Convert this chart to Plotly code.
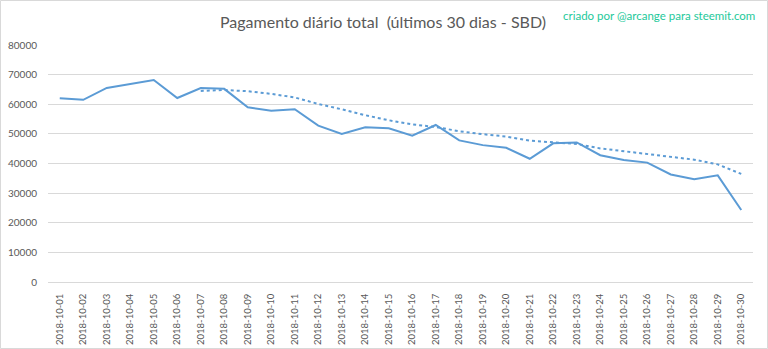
import plotly.graph_objects as go

dates = [f"2018-10-{d:02d}" for d in range(1, 31)]
pagamento = [62000, 61500, 65500, 66800, 68200, 62100, 65500, 65200, 59000, 57800,
             58300, 52800, 50000, 52200, 51900, 49400, 53000, 47800, 46200, 45300,
             41600, 46800, 47100, 42800, 41200, 40300, 36300, 34700, 36000, 24300]
media_dates = dates[6:]
media = [64500, 64800, 64400, 63500, 62300, 60100, 58300, 56300, 54600, 53200,
         52300, 50900, 49900, 49100, 47700, 47100, 46600, 45100, 44100, 43200,
         42100, 41300, 39700, 36500]
y_ticks = list(range(0, 80001, 10000))

W, H = 768, 349
L, R, T, B = 48, 15, 45, 67
pw, ph = W - L - R, H - T - B

fig = go.Figure()
fig.add_trace(go.Scatter(x=dates, y=pagamento, mode="lines",
                         line=dict(color="#5B9BD5", width=2), showlegend=False))
fig.add_trace(go.Scatter(x=media_dates, y=media, mode="lines",
                         line=dict(color="#5B9BD5", width=2, dash="dot"), showlegend=False))

fig.update_layout(
    width=W, height=H,
    margin=dict(l=L, r=R, t=T, b=B),
    paper_bgcolor="white", plot_bgcolor="white",
    font=dict(family="Lato, sans-serif", color="#595959"),
    title=dict(text="Pagamento diário total  (últimos 30 dias - SBD)",
               x=383 / W, xanchor="center", y=1 - 22 / H, yanchor="middle",
               font=dict(size=16, color="#595959", family="Lato, sans-serif")),
    xaxis=dict(type="category", tickangle=-90, showgrid=False, showline=False,
               ticks="outside", ticklen=7, tickcolor="rgba(0,0,0,0)",
               tickfont=dict(size=9.5, color="#595959"), automargin=False,
               range=[-0.5, len(dates) - 0.5],
               categoryorder="array", categoryarray=dates),
    yaxis=dict(range=[0, 80000], tickvals=y_ticks, ticktext=[str(v) for v in y_ticks],
               showgrid=True, gridcolor="#d9d9d9", gridwidth=1, zeroline=True,
               zerolinecolor="#d9d9d9", zerolinewidth=1, ticks="",
               ticklabelstandoff=10, automargin=False,
               tickfont=dict(size=10, color="#595959")),
    annotations=[dict(text="criado por @arcange para steemit.com",
                      xref="paper", yref="paper",
                      x=(757 - L) / pw, y=1 + (T - 16) / ph,
                      xanchor="right", yanchor="middle", showarrow=False,
                      font=dict(size=11.5, color="#1DC99A", family="Lato, sans-serif"))],
    shapes=[dict(type="rect", xref="paper", yref="paper",
                 x0=(0.5 - L) / pw, x1=(W - 0.5 - L) / pw,
                 y0=-(H - 0.5 - T - ph) / ph, y1=1 + (T - 0.5) / ph,
                 line=dict(color="#d9d9d9", width=1), layer="below")],
)

fig.write_html("out.html")
